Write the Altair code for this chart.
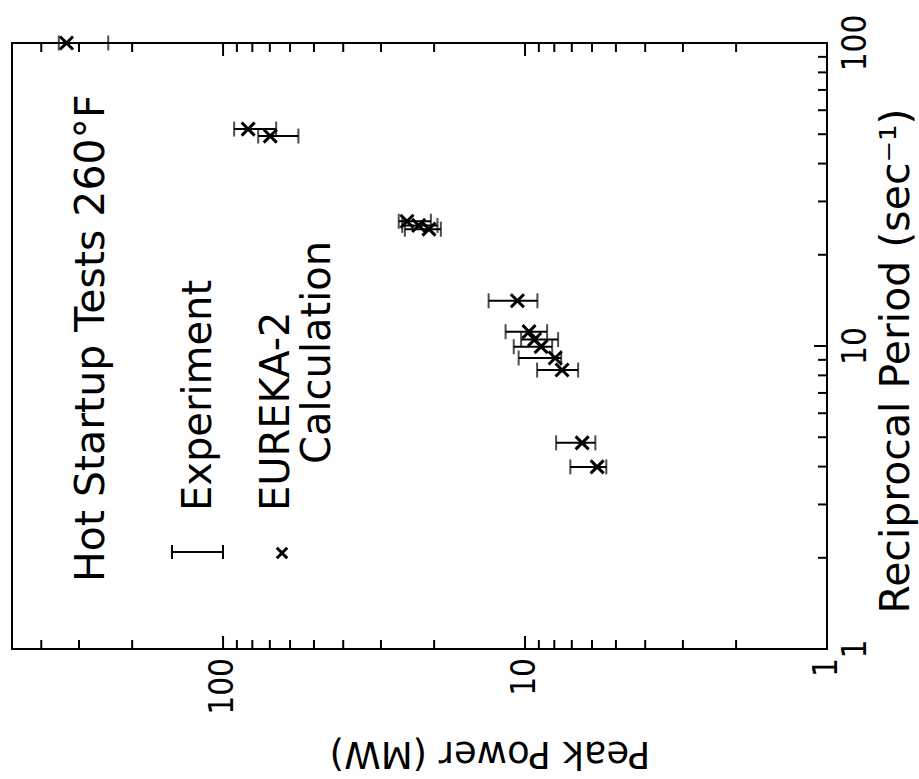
import altair as alt
import pandas as pd

# ---- data (rotated plot) ----
recip_period = [100, 52.0, 49.3, 25.8, 25.0, 24.3, 14.1, 11.15, 10.5, 9.95, 9.13, 8.33, 4.79, 3.99]
exp_low = [240, 66.7, 56.3, 20.5, 19.5, 19.0, 9.1, 8.45, 7.77, 8.13, 7.59, 6.67, 5.85, 5.38]
exp_high = [350, 91.9, 76.5, 26.2, 25.5, 25.0, 13.2, 11.6, 10.3, 10.9, 10.5, 9.12, 7.89, 7.08]
eureka_calc = [330, 82.6, 69.8, 24.6, 22.5, 20.8, 10.6, 9.7, 9.3, 8.85, 7.95, 7.54, 6.47, 5.77]

power_label_values = [1, 10, 100]
power_label_text = ["1", "10", "100"]
recip_label_values = [1, 10, 100]
recip_label_text = ["1", "10", "100"]
power_minor = [2, 3, 4, 5, 6, 7, 8, 9, 20, 30, 40, 50, 60, 70, 80, 90, 200, 300, 400]
power_major = [10, 100]
recip_minor = [2, 3, 4, 5, 6, 7, 8, 9, 20, 30, 40, 50, 60, 70, 80, 90]
recip_major = [10]

W, H = 815, 606
TXT = "DejaVu Sans"
NUM = "Liberation Sans Narrow, DejaVu Sans Condensed, Liberation Sans"

df = pd.DataFrame({"recip": recip_period, "lo": exp_low, "hi": exp_high, "calc": eureka_calc})

xscale = alt.Scale(type="log", domain=[1, 500], reverse=True, nice=False)
yscale = alt.Scale(type="log", domain=[1, 100], nice=False)

base = alt.Chart(df)

bars = base.mark_rule(color="black", strokeWidth=2).encode(
    x=alt.X("lo:Q", scale=xscale, axis=None, title="Peak Power (MW)"),
    x2="hi:Q",
    y=alt.Y("recip:Q", scale=yscale, axis=None, title="Reciprocal Period (sec⁻¹)"),
)

cap_lo = base.mark_tick(orient="vertical", color="black", size=15, thickness=2).encode(
    x=alt.X("lo:Q", scale=xscale, axis=None), y=alt.Y("recip:Q", scale=yscale, axis=None))
cap_hi = base.mark_tick(orient="vertical", color="black", size=15, thickness=2).encode(
    x=alt.X("hi:Q", scale=xscale, axis=None), y=alt.Y("recip:Q", scale=yscale, axis=None))

xmark = "M-1,-1L1,1M-1,1L1,-1"
calc_pts = base.mark_point(shape=xmark, size=170, filled=False, color="black",
                           strokeWidth=3, opacity=1).encode(
    x=alt.X("calc:Q", scale=xscale, axis=None), y=alt.Y("recip:Q", scale=yscale, axis=None))

# ---- inward tick marks on the frame ----
def xticks(values, length, top):
    d = pd.DataFrame({"pv": values})
    y0 = 0 if top else H
    y1 = length if top else H - length
    return alt.Chart(d).mark_rule(color="black", strokeWidth=2).encode(
        x=alt.X("pv:Q", scale=xscale, axis=None), y=alt.value(y0), y2=alt.value(y1))

def yticks(values, length):
    d = pd.DataFrame({"rv": values})
    return alt.Chart(d).mark_rule(color="black", strokeWidth=2).encode(
        y=alt.Y("rv:Q", scale=yscale, axis=None), x=alt.value(W), x2=alt.value(W - length))

frame_ticks = [
    xticks(power_minor, 9, False), xticks(power_major, 13, False),
    xticks(power_minor, 9, True), xticks(power_major, 13, True),
    yticks(recip_minor, 9), yticks(recip_major, 13),
]

# ---- tick labels (rotated, as in the reference) ----
bottom_labels = alt.Chart(pd.DataFrame({"v": power_label_values, "t": power_label_text})).mark_text(
    angle=270, align="right", baseline="middle", font=NUM, fontSize=33, color="black"
).encode(x=alt.X("v:Q", scale=xscale, axis=None), y=alt.value(H + 9), text="t:N")

right_labels = alt.Chart(pd.DataFrame({"v": recip_label_values, "t": recip_label_text})).mark_text(
    angle=270, align="center", baseline="top", font=NUM, fontSize=33, color="black"
).encode(y=alt.Y("v:Q", scale=yscale, axis=None), x=alt.value(W + 13), text="t:N")

one = alt.Data(values=[{"k": 0}])

x_title = alt.Chart(one).mark_text(
    angle=180, align="center", baseline="middle", font=TXT, fontSize=37, color="black"
).encode(x=alt.value(478), y=alt.value(H + 104), text=alt.value("Peak Power (MW)"))

y_title = alt.Chart(one).mark_text(
    angle=270, align="center", baseline="middle", font=TXT, fontSize=41, color="black"
).encode(x=alt.value(W + 70), y=alt.value(318), text=alt.value("Reciprocal Period (sec⁻¹)"))

# ---- in-plot legend / annotation ----
def vtext(txt, x, y, size=40):
    return alt.Chart(one).mark_text(angle=270, align="left", baseline="middle",
                                    font=TXT, fontSize=size, color="black").encode(
        x=alt.value(x), y=alt.value(y), text=alt.value(txt))

title_txt = vtext("Hot Startup Tests 260°F", 80, 539, 41)
exp_txt = vtext("Experiment", 187, 468)
eur_txt = vtext("EUREKA-2", 265, 468)
calc_txt = vtext("Calculation", 306, 421)

leg_bar = alt.Chart(one).mark_rule(color="black", strokeWidth=2).encode(
    x=alt.value(160), x2=alt.value(211), y=alt.value(509))
leg_cap1 = alt.Chart(one).mark_rule(color="black", strokeWidth=2).encode(
    x=alt.value(160), y=alt.value(502), y2=alt.value(516))
leg_cap2 = alt.Chart(one).mark_rule(color="black", strokeWidth=2).encode(
    x=alt.value(211), y=alt.value(502), y2=alt.value(516))
leg_x = alt.Chart(one).mark_point(shape=xmark, size=110, filled=False, color="black",
                                  strokeWidth=3, opacity=1).encode(
    x=alt.value(270), y=alt.value(510))

chart = alt.layer(
    bars, cap_lo, cap_hi, calc_pts, *frame_ticks,
    bottom_labels, right_labels, x_title, y_title,
    title_txt, exp_txt, eur_txt, calc_txt, leg_bar, leg_cap1, leg_cap2, leg_x,
).properties(
    width=W, height=H,
    autosize=alt.AutoSizeParams(type="none"),
    padding={"left": 12, "top": 43, "right": 92, "bottom": 130},
    background="white",
).configure_view(stroke="black", strokeWidth=2)

chart.save("out.html", embed_options={"renderer": "svg", "actions": False})
